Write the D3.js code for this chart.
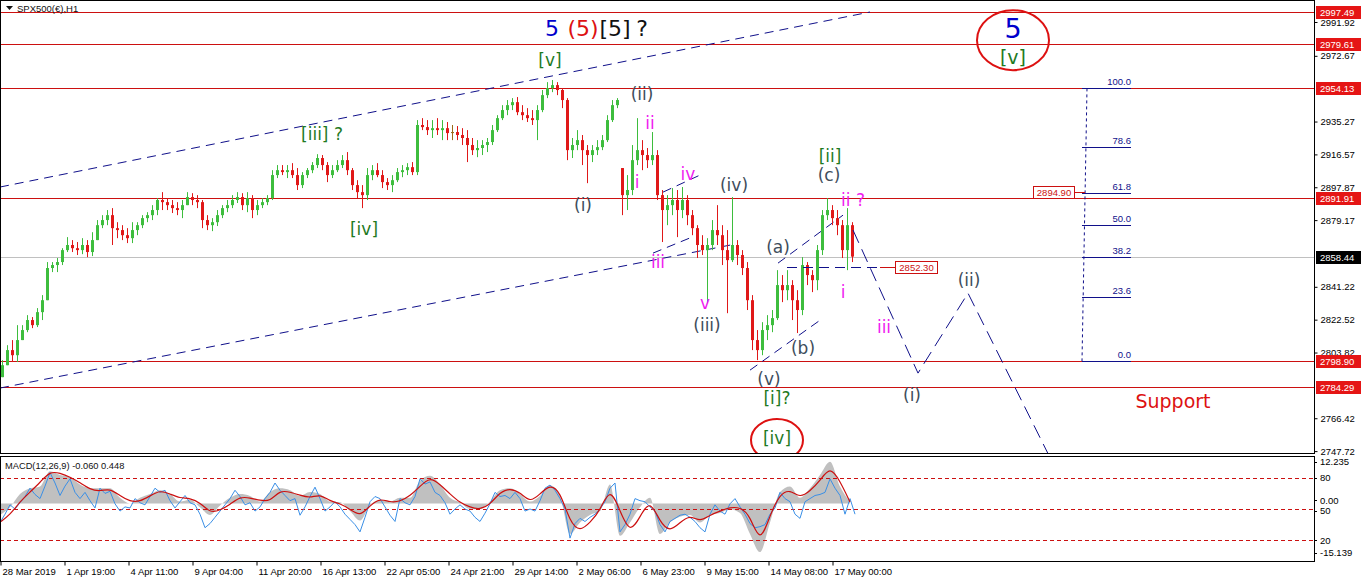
<!DOCTYPE html>
<html><head><meta charset="utf-8"><title>SPX500 H1</title>
<script src="https://cdn.jsdelivr.net/npm/d3@7/dist/d3.min.js"></script>
<style>
html,body{margin:0;padding:0;background:#fff;overflow:hidden}
svg{display:block}
.ax text{font-family:"Liberation Sans",Arial,sans-serif;font-size:9.5px;fill:#000}
.ax line{stroke:#000}
.wl{font-family:"DejaVu Sans",Verdana,sans-serif;font-size:17px}
.sm{font-family:"Liberation Sans",Arial,sans-serif;font-size:9.5px}
</style></head><body>
<svg id="chart" width="1362" height="581"></svg>
<script>
// ---------- DATA ----------
const barStep = 5; // hours per drawn candle (H1 bars grouped)
const hi = [2799.5,2808.0,2810.9,2819.4,2819.4,2825.1,2824.0,2829.1,2836.5,2855.3,
2855.3,2857.6,2863.2,2869.5,2867.8,2866.7,2868.9,2867.8,2872.3,2879.2,
2882.0,2884.9,2886.0,2878.0,2876.3,2874.6,2878.0,2878.0,2882.0,2883.7,
2887.7,2891.7,2895.1,2891.7,2890.6,2889.4,2890.6,2895.1,2894.5,2893.4,
2890.6,2882.0,2880.3,2884.9,2887.7,2890.6,2893.4,2895.1,2894.5,2895.1,
2893.4,2890.6,2891.7,2893.4,2907.6,2910.5,2910.5,2910.5,2911.6,2908.8,
2906.5,2908.8,2912.2,2916.7,2916.2,2912.2,2910.5,2913.3,2916.2,2917.9,
2908.8,2901.9,2899.1,2908.8,2910.5,2911.6,2907.6,2903.1,2904.8,2908.8,
2910.5,2911.6,2912.2,2936.1,2937.2,2936.1,2936.1,2937.2,2936.1,2935.0,
2933.3,2932.7,2931.5,2930.4,2925.9,2924.7,2924.7,2925.9,2933.3,2938.9,
2944.6,2947.5,2948.6,2949.2,2944.6,2942.9,2941.8,2944.6,2953.2,2957.7,
2958.9,2957.7,2954.3,2948.6,2925.9,2930.4,2927.6,2921.9,2921.9,2924.7,
2927.6,2938.9,2947.5,2948.6,2908.8,2904.8,2921.9,2937.2,2924.7,2920.2,
2929.3,2919.0,2896.3,2893.4,2897.4,2896.3,2898.0,2893.4,2884.9,2876.3,
2870.6,2868.9,2879.2,2887.7,2876.3,2873.5,2892.3,2867.8,2862.1,2855.3,
2836.5,2816.6,2821.1,2825.1,2828.0,2850.7,2847.9,2850.7,2845.0,2839.3,
2858.1,2855.3,2850.7,2865.0,2884.9,2891.7,2887.7,2884.9,2879.2,2886.0,
2878.0];
const lo = [2789.8,2796.6,2798.4,2798.4,2810.9,2815.4,2817.7,2818.3,2822.3,2833.6,
2849.6,2849.6,2853.6,2861.0,2861.0,2859.3,2859.8,2858.1,2858.7,2867.8,
2874.6,2876.3,2865.0,2868.9,2867.8,2866.1,2866.1,2870.6,2874.6,2878.0,
2879.2,2882.0,2884.9,2884.9,2883.2,2882.0,2880.3,2887.7,2887.7,2886.0,
2874.6,2873.5,2872.9,2875.8,2880.3,2883.7,2886.0,2888.9,2884.9,2883.7,
2880.3,2882.0,2886.0,2887.7,2890.6,2903.1,2904.8,2903.1,2903.1,2896.3,
2897.4,2903.1,2905.9,2908.8,2907.6,2900.8,2903.1,2906.5,2908.8,2904.8,
2896.3,2891.7,2886.0,2890.6,2901.9,2903.6,2897.4,2896.3,2895.1,2900.8,
2903.6,2904.8,2904.8,2904.8,2930.4,2927.6,2925.9,2927.6,2924.7,2924.7,
2924.7,2924.7,2921.9,2912.2,2916.2,2915.0,2916.2,2917.9,2921.9,2929.3,
2936.1,2938.9,2941.8,2938.9,2936.1,2935.0,2933.3,2924.7,2940.6,2948.6,
2952.0,2950.3,2942.9,2913.3,2914.5,2919.0,2910.5,2900.2,2912.2,2916.2,
2919.0,2923.6,2935.0,2942.9,2882.0,2884.9,2893.4,2910.5,2907.6,2908.8,
2910.5,2890.6,2866.7,2876.3,2882.0,2869.5,2880.3,2876.3,2870.6,2857.6,
2859.3,2831.9,2862.1,2865.0,2853.6,2826.2,2855.3,2853.6,2847.9,2828.0,
2805.2,2799.5,2802.3,2810.9,2815.4,2822.3,2832.5,2833.6,2822.3,2814.9,
2825.1,2842.2,2838.2,2839.3,2859.3,2879.2,2876.3,2870.6,2857.6,2850.7,
2855.3];
const cl = [2796.6,2805.2,2802.3,2810.9,2816.6,2822.3,2819.4,2826.8,2833.6,2851.9,
2853.6,2855.3,2862.1,2865.0,2863.2,2862.1,2865.0,2861.0,2867.8,2876.3,
2879.2,2882.0,2874.6,2873.5,2870.6,2868.9,2873.5,2876.3,2880.3,2882.0,
2884.9,2890.6,2889.4,2887.7,2886.0,2884.9,2887.7,2892.3,2890.6,2889.4,
2879.2,2876.3,2878.0,2882.0,2886.0,2887.7,2890.6,2892.3,2887.7,2891.7,
2884.9,2887.7,2889.4,2891.7,2904.8,2907.6,2906.5,2907.6,2904.8,2899.1,
2904.8,2907.6,2910.5,2914.5,2910.5,2904.8,2907.6,2910.5,2913.3,2907.6,
2899.1,2895.1,2893.4,2904.8,2907.6,2904.8,2900.8,2899.1,2901.9,2906.5,
2907.6,2909.3,2906.5,2933.3,2932.1,2930.4,2931.5,2930.4,2931.5,2928.7,
2929.3,2927.6,2925.9,2921.9,2919.0,2920.2,2921.9,2923.6,2930.4,2937.2,
2941.8,2944.6,2946.3,2940.6,2938.9,2937.2,2936.1,2941.8,2950.3,2954.3,
2956.0,2953.2,2947.5,2919.0,2921.9,2924.7,2919.0,2916.2,2919.0,2920.7,
2924.7,2936.1,2944.6,2947.5,2893.4,2896.3,2913.3,2919.0,2916.2,2913.3,
2916.2,2893.4,2884.9,2887.7,2890.6,2884.9,2890.6,2882.0,2874.6,2865.0,
2862.1,2865.0,2873.5,2870.6,2862.1,2856.4,2865.0,2859.3,2851.9,2833.6,
2810.9,2805.2,2816.6,2819.4,2823.4,2842.2,2839.3,2842.2,2833.6,2828.0,
2853.6,2847.9,2845.0,2862.1,2882.0,2884.9,2880.3,2876.3,2862.1,2876.3,
2858.4];

const subStep = 10; // hours per MACD sample
const macdHist = [-3,-1,2.5,4,4.5,8.5,7.5,7,5,4, 4,4,1.5,0,1.5,2.5,3.5,2.5,0.5,1,
-1,-3,-0.5,1.5,2.5,2,0.5,3,4,3.5, 2,3,2.5,0.5,0.3,-2,-4.5,-0.5,1,0.5,
1.5,1.5,6,7.3,5,1.5,0.3,-1.5,-1.5,0.5, 3.5,4,2.5,0.5,2,4.8,2,-8,-5,-3,
-2,5,-8.5,-5,-1,1.5,-8,-5,-3.5,-3, -5,-3,-2.5,-1.5,-2.5,-8,-12.8,-5,3,4.5,
1.5,4,7.5,11,4.5,0.5];
const macdSignal = [-4.9,-3,0.5,3,5.5,8.5,8,7,5.5,3.7, 3.2,4,2,0.5,0.5,2,3.5,2.5,1.4,1.4,
0.3,-2.5,-1.8,-0.3,1.8,1.5,0.8,0.5,3.5,3, 2.2,1.4,2.5,0.6,0,-1.5,-3.5,-0.5,1.4,0.3,
0.5,2,4.5,7,5,2.5,0.2,-1,-1.6,-0.3, 3,4,3,0.2,2.5,5,3.3,-5,-7.4,-5,
-2,4.5,-2,-8,-3.5,1.2,-5,-7.5,-5,-3, -4.9,-3,-2,-1,-1,-3,-10.9,-3,2.5,3.7,
1.4,3.3,5.9,9.9,5.9,0.4];
const oscStep = 5;
const oscValues = [37,45,54,50,56,62,70,64,60,72, 85,75,63,72,79,66,60,66,58,51,
70,65,67,55,48,52,51,60,56,54, 62,70,66,68,58,51,57,63,56,54,
45,32,36,42,48,54,60,68,62,54, 56,48,52,60,66,75,68,63,58,60,
44,52,62,71,60,48,52,57,52,45, 40,35,28,42,57,62,60,52,44,38,
60,56,54,62,79,74,76,66,63,56, 45,50,54,50,48,42,38,46,55,66,
62,63,60,66,60,48,50,48,58,70, 73,68,60,50,22,36,41,38,42,45,
50,57,70,75,28,35,45,60,58,57, 52,48,35,28,38,41,44,45,42,38,
32,28,45,54,48,45,55,60,52,45, 36,32,33,35,45,51,66,60,57,45,
41,57,60,63,64,66,79,70,63,45, 60,45];
const oscLevels = [80, 50, 20];

const timeLabels = ["28 Mar 2019","1 Apr 19:00","4 Apr 11:00","9 Apr 04:00","11 Apr 20:00","16 Apr 13:00","22 Apr 05:00","24 Apr 21:00","29 Apr 14:00","2 May 06:00","6 May 23:00","9 May 15:00","14 May 08:00","17 May 00:00"];
const timeHours = [0,64,128,192,256,320,384,448,512,576,640,704,768,832];
const priceTicks = [2991.92,2972.67,2935.27,2916.57,2897.87,2879.17,2841.22,2822.52,2803.82,2766.42,2747.72];
const levels = [2997.49,2979.61,2954.13,2891.91,2798.90,2784.29];
const lastPrice = 2858.44;
const macdRange = [-15.139, 12.235];

// annotation drawing objects (hour, price)
const channels = [
  [[0,2898.0],[870,2997.6]],
  [[0,2783.6],[735,2865.5]],
  [[663,2895.1],[700,2904.8]],
  [[653,2860.4],[692,2869.5]],
  [[778,2854.7],[843,2882.0]],
  [[750,2793.8],[823,2823.4]]
];
const projection = [[853,2873.5],[918,2792.1],[968,2837.6],[1050,2744]];
const hLevel = {price:2852.30, from:787, to:880, box:895};
const fibHigh = 2954.13, fibLow = 2798.90;
const fibLevels = [100.0,78.6,61.8,50.0,38.2,23.6,0.0];
const fibHours = {top:1087, bottom:1082, left:1082, right:1131};
const fibMark = {price:2894.90, box:1033};

const greenLabels = [["[v]",550,2970.2],["[iii] ?",322,2928.2],["[iv]",364,2874.0],["[ii]",830,2915.6],["[i]?",777,2777.9],["[iv]",777,2755.1]];
const grayLabels = [["(ii)",642,2951.0],["(i)",583,2887.7],["(iv)",734,2899.4],["(iii)",707,2819.4],["(a)",778,2863.8],["(b)",803,2806.3],["(c)",829,2904.8],["(v)",769,2788.6],["(i)",912,2779.6],["(ii)",969,2845.0]];
const magentaLabels = [["ii",650,2934.6],["i",637,2900.8],["iv",688,2905.4],["iii",658,2855.5],["v",705,2831.9],["ii ?",853,2890.6],["i",843,2838.2],["iii",884,2818.3]];

// ---------- CHART ----------
const svg = d3.select("#chart");
const PR = 1314; // right edge of plotting area
const x = d3.scaleLinear().domain([0, PR]).range([0, PR]);
const y = d3.scaleLinear().domain([2745.5, 3004.44]).range([455, 0]);
const yM = d3.scaleLinear().domain(macdRange).range([561, 457]);
const yO = d3.scaleLinear().domain([0, 100]).range([561, 457]);
const px = v => Math.round(v) + 0.5;

svg.append("rect").attr("width",1362).attr("height",581).attr("fill","#fff");
const defs = svg.append("defs");
defs.append("clipPath").attr("id","cm").append("rect").attr("x",0).attr("y",0).attr("width",PR).attr("height",454);
defs.append("clipPath").attr("id","cs").append("rect").attr("x",0).attr("y",457).attr("width",PR).attr("height",104);

const gM = svg.append("g").attr("clip-path","url(#cm)");

// horizontal level lines
gM.selectAll(".lvl").data(levels).join("line")
  .attr("x1",0).attr("x2",PR).attr("y1",d=>px(y(d))).attr("y2",d=>px(y(d)))
  .attr("stroke","#cc1010").attr("stroke-width",1);
gM.append("line").attr("x1",0).attr("x2",PR).attr("y1",px(y(lastPrice))).attr("y2",px(y(lastPrice)))
  .attr("stroke","#c0c0c0");

// channel lines
const ln = d3.line().x(d=>x(d[0])).y(d=>y(d[1]));
gM.selectAll(".ch").data(channels).join("path").attr("d",ln)
  .attr("fill","none").attr("stroke","#10108a").attr("stroke-width",1).attr("stroke-dasharray","9,6");

// candles
const candles = cl.map((c,i)=>{
  const prev = i ? cl[i-1] : lo[0];
  const o = Math.max(lo[i], Math.min(hi[i], prev));
  return {i, o, h:hi[i], l:lo[i], c};
});
const colr = d => Math.abs(d.c-d.o) < 0.8 ? "#9a6a1a" : (d.c >= d.o ? "#3dbd3d" : "#e01818");
const cg = gM.append("g");
cg.selectAll(".wk").data(candles).join("line")
  .attr("x1",d=>px(x(d.i*barStep+2))).attr("x2",d=>px(x(d.i*barStep+2)))
  .attr("y1",d=>y(d.h)).attr("y2",d=>y(d.l)).attr("stroke",colr).attr("stroke-width",1);
cg.selectAll(".bd").data(candles).join("rect")
  .attr("x",d=>Math.round(x(d.i*barStep+2))-1).attr("width",3)
  .attr("y",d=>y(Math.max(d.o,d.c))).attr("height",d=>Math.max(1, Math.abs(y(d.o)-y(d.c))))
  .attr("fill",colr);

// horizontal dashed level 2852.30
gM.append("line").attr("x1",x(hLevel.from)).attr("x2",x(hLevel.to)).attr("y1",px(y(hLevel.price))).attr("y2",px(y(hLevel.price)))
  .attr("stroke","#10108a").attr("stroke-dasharray","10,6");
gM.append("line").attr("x1",x(hLevel.to)).attr("x2",x(hLevel.box)).attr("y1",px(y(hLevel.price))).attr("y2",px(y(hLevel.price)))
  .attr("stroke","#cc1010");
gM.append("rect").attr("x",x(hLevel.box)+0.5).attr("y",px(y(hLevel.price))-6).attr("width",42).attr("height",12)
  .attr("fill","#fff").attr("stroke","#cc1010");
gM.append("text").attr("class","sm").attr("x",x(hLevel.box)+21.5).attr("y",y(hLevel.price)+3.8)
  .attr("text-anchor","middle").attr("fill","#cc1010").text(hLevel.price.toFixed(2));

// projection path
gM.append("path").datum(projection).attr("d",ln).attr("fill","none")
  .attr("stroke","#10108a").attr("stroke-width",1).attr("stroke-dasharray","14,7");

// fibonacci
const fibP = lv => fibLow + lv/100*(fibHigh-fibLow);
gM.append("line").attr("x1",x(fibHours.top)).attr("y1",y(fibHigh)).attr("x2",x(fibHours.bottom)).attr("y2",y(fibLow))
  .attr("stroke","#10108a").attr("stroke-dasharray","3,3");
gM.selectAll(".fl").data(fibLevels).join("line")
  .attr("x1",x(fibHours.left)).attr("x2",x(fibHours.right)).attr("y1",d=>px(y(fibP(d)))).attr("y2",d=>px(y(fibP(d))))
  .attr("stroke","#10108a");
gM.selectAll(".ft").data(fibLevels).join("text").attr("class","sm")
  .attr("x",x(fibHours.right)).attr("y",d=>y(fibP(d))-3).attr("text-anchor","end").attr("fill","#10108a")
  .text(d=>d.toFixed(1));
gM.append("line").attr("x1",x(fibMark.box)+41).attr("x2",x(fibHours.bottom)+3).attr("y1",px(y(fibMark.price))).attr("y2",px(y(fibMark.price)))
  .attr("stroke","#cc1010");
gM.append("rect").attr("x",x(fibMark.box)+0.5).attr("y",px(y(fibMark.price))-6).attr("width",41).attr("height",12)
  .attr("fill","#fff").attr("stroke","#cc1010");
gM.append("text").attr("class","sm").attr("x",x(fibMark.box)+21).attr("y",y(fibMark.price)+3.8)
  .attr("text-anchor","middle").attr("fill","#cc1010").text(fibMark.price.toFixed(2));

// wave labels
function labels(arr, color, size){
  gM.append("g").selectAll("text").data(arr).join("text").attr("class","wl")
    .attr("x",d=>x(d[1])).attr("y",d=>y(d[2])).attr("dy","0.36em").attr("text-anchor","middle")
    .attr("fill",color).style("font-size",size+"px").text(d=>d[0]);
}
labels(greenLabels,"#1f7a1f",17);
labels(grayLabels,"#3e4d5c",17);
labels(magentaLabels,"#f01cf0",17);

// big labels top
const topTxt = [["5",552,"#0000cc"],["(5)",583,"#dd1111"],["[5]",615,"#111"],["?",642,"#111"]];
gM.append("g").selectAll("text").data(topTxt).join("text").attr("class","wl")
  .attr("x",d=>x(d[1])).attr("y",y(2988.5)).attr("dy","0.36em").attr("text-anchor","middle")
  .attr("fill",d=>d[2]).style("font-size","22px").text(d=>d[0]);
// circles
gM.append("ellipse").attr("cx",x(1013)).attr("cy",y(2981.6)).attr("rx",36).attr("ry",30)
  .attr("fill","none").attr("stroke","#dd1111").attr("stroke-width",2);
gM.append("text").attr("class","wl").attr("x",x(1013)).attr("y",y(2988.5)).attr("dy","0.36em").attr("text-anchor","middle")
  .attr("fill","#0000cc").style("font-size","27px").text("5");
gM.append("text").attr("class","wl").attr("x",x(1013)).attr("y",y(2972.0)).attr("dy","0.36em").attr("text-anchor","middle")
  .attr("fill","#1f7a1f").style("font-size","19px").text("[v]");
gM.append("ellipse").attr("cx",x(777)).attr("cy",y(2754.0)).attr("rx",26).attr("ry",21)
  .attr("fill","none").attr("stroke","#dd1111").attr("stroke-width",2);
gM.append("text").attr("class","wl").attr("x",x(1173)).attr("y",y(2776.2)).attr("dy","0.36em").attr("text-anchor","middle")
  .attr("fill","#dd1111").style("font-size","19px").text("Support");

// title
svg.append("path").attr("d","M6,6 L13,6 L9.5,10 Z").attr("fill","#111");
svg.append("text").attr("class","sm").attr("x",17).attr("y",12).attr("fill","#111").style("font-size","9.5px").text("SPX500(€),H1");

// ---------- MACD sub window ----------
const gS = svg.append("g").attr("clip-path","url(#cs)");
const hist = macdHist.map((v,i)=>({h:i*subStep, v}));
gS.append("path").datum(hist)
  .attr("d", d3.area().x(d=>x(d.h)).y0(yM(0)).y1(d=>yM(d.v)).curve(d3.curveMonotoneX))
  .attr("fill","#c0c0c0");
gS.selectAll(".ol").data(oscLevels).join("line")
  .attr("x1",0).attr("x2",PR).attr("y1",d=>px(yO(d))).attr("y2",d=>px(yO(d)))
  .attr("stroke","#cc1010").attr("stroke-dasharray","4,3");
gS.append("path").datum(oscValues.map((v,i)=>({h:i*oscStep, v})))
  .attr("d", d3.line().x(d=>x(d.h)).y(d=>yO(d.v)))
  .attr("fill","none").attr("stroke","#3a8fe6").attr("stroke-width",1);
gS.append("path").datum(macdSignal.map((v,i)=>({h:i*subStep, v})))
  .attr("d", d3.line().x(d=>x(d.h)).y(d=>yM(d.v)).curve(d3.curveBasis))
  .attr("fill","none").attr("stroke","#cc1010").attr("stroke-width",1.2);
svg.append("text").attr("class","sm").attr("x",5).attr("y",469).attr("fill","#111").style("font-size","9.3px")
  .text("MACD(12,26,9) -0.060 0.448");

// frames
svg.append("rect").attr("x",0.5).attr("y",0.5).attr("width",PR).attr("height",453).attr("fill","none").attr("stroke","#000");
svg.append("rect").attr("x",0.5).attr("y",456.5).attr("width",PR).attr("height",105).attr("fill","none").attr("stroke","#000");

// price axis
const axG = svg.append("g").attr("class","ax").attr("transform",`translate(${PR+0.5},0)`)
  .call(d3.axisRight(y).tickValues(priceTicks).tickSize(3).tickPadding(3).tickFormat(d3.format(".2f")));
axG.select(".domain").remove();
const lab = svg.append("g").attr("class","ax");
const boxes = levels.map(v=>({v, bg:"#e51515"})).concat([{v:lastPrice, bg:"#000"}]);
lab.selectAll("rect").data(boxes).join("rect")
  .attr("x",PR+2).attr("y",d=>Math.round(y(d.v))-6).attr("width",45).attr("height",13).attr("fill",d=>d.bg);
lab.selectAll("text").data(boxes).join("text")
  .attr("x",PR+6).attr("y",d=>Math.round(y(d.v))+4).style("fill","#fff").text(d=>d.v.toFixed(2));

// MACD axis labels
const mG = svg.append("g").attr("class","ax");
const mLabs = [["12.235", yM(macdRange[1])+8],["80", yO(80)+3.5],["0.00", yM(0)+0.5],["50", yO(50)+5],["20", yO(20)+3.5],["-15.139", yM(macdRange[0])-5]];
mG.selectAll("text").data(mLabs).join("text").attr("x",PR+6).attr("y",d=>d[1]).text(d=>d[0]);
mG.selectAll("line").data(mLabs).join("line").attr("x1",PR).attr("x2",PR+3).attr("y1",d=>px(d[1]-3.5)).attr("y2",d=>px(d[1]-3.5));

// time axis
const tG = svg.append("g").attr("class","ax").attr("transform","translate(0,561.5)")
  .call(d3.axisBottom(x).tickValues(timeHours).tickSize(4).tickPadding(3).tickFormat((d,i)=>timeLabels[i]));
tG.select(".domain").remove();
tG.selectAll(".tick line").attr("transform","translate(0.5,0)");
tG.selectAll(".tick text").attr("text-anchor","start").attr("dx",2);
</script>
</body></html>
